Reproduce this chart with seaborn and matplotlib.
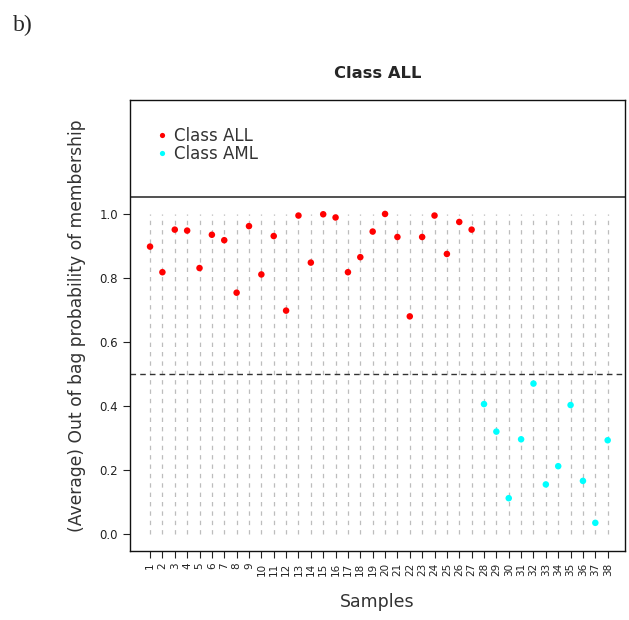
import numpy as np
import pandas as pd
import matplotlib
matplotlib.use("Agg")
import matplotlib.pyplot as plt
import seaborn as sns

samples = list(range(1, 39))
prob_all = [0.898, 0.818, 0.951, 0.948, 0.831, 0.935, 0.918, 0.754, 0.962, 0.811,
            0.931, 0.698, 0.995, 0.848, 0.999, 0.989, 0.818, 0.865, 0.945, 1.000,
            0.928, 0.680, 0.928, 0.995, 0.875, 0.975, 0.951]
prob_aml = [0.406, 0.320, 0.112, 0.296, 0.470, 0.155, 0.212, 0.403, 0.166, 0.035, 0.293]
classes = ["Class ALL"] * len(prob_all) + ["Class AML"] * len(prob_aml)
yticks = [0.0, 0.2, 0.4, 0.6, 0.8, 1.0]

df = pd.DataFrame({"Sample": samples, "Prob": prob_all + prob_aml, "Class": classes})

sns.set_theme(style="ticks")
plt.rcParams['font.family'] = ['DejaVu Sans']

fig = plt.figure(figsize=(6.29, 6.2), dpi=100)
ax = fig.add_axes([130 / 629, 69 / 620, 495 / 629, 451 / 620])

# vertical dashed guide lines
ax.vlines(df["Sample"], 0, 1.0, colors="#bdbdbd", linestyles=(0, (3.5, 4)), linewidth=0.9, zorder=1)
ax.axhline(0.5, color="#333333", linestyle=(0, (4, 3)), linewidth=1.0, zorder=1)
ax.axhline(1.053, color="#333333", linewidth=1.2, zorder=2)

sns.scatterplot(data=df, x="Sample", y="Prob", hue="Class",
                palette={"Class ALL": "#ff0000", "Class AML": "#00ffff"},
                s=22, linewidth=0, ax=ax, zorder=3, legend=True)

ax.set_xlim(-0.62, 39.4)
ax.set_ylim(-0.053, 1.356)
ax.set_xticks(samples)
ax.set_xticklabels([str(s) for s in samples], rotation=90, fontsize=7.5, color="#222222")
ax.set_yticks(yticks)
ax.set_yticklabels([f"{v:.1f}" for v in yticks], fontsize=8.5, color="#222222")
ax.tick_params(axis="both", direction="out", length=5, width=0.8, color="#222222")
for sp in ax.spines.values():
    sp.set_color("#111111")
    sp.set_linewidth(1.0)

ax.set_xlabel("Samples", fontsize=12.5, color="#333333", labelpad=12)
ax.set_ylabel("(Average) Out of bag probability of membership", fontsize=12.3, color="#333333")
ax.yaxis.set_label_coords(-0.088, 0.5)
ax.set_title("Class ALL", fontsize=11.8, fontweight="bold", pad=16)

leg = ax.legend(loc="upper left", bbox_to_anchor=(0.035, 0.955), frameon=False,
                fontsize=12, handletextpad=0.2, labelspacing=0.0, borderaxespad=0,
                markerscale=0.8, handlelength=1.0)
for t in leg.get_texts():
    t.set_color("#333333")

fig.text(13 / 629, 1 - 25 / 620, "b)", fontsize=17, family="Liberation Serif", va="center", ha="left")

fig.savefig("out.png", dpi=100)
